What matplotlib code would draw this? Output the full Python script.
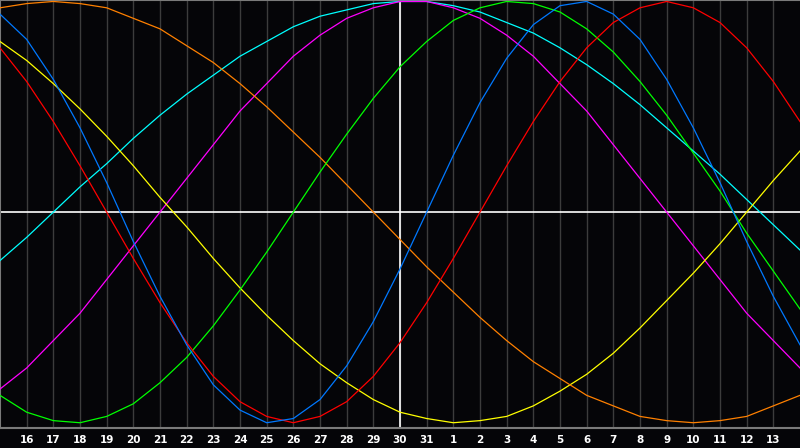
import matplotlib
matplotlib.use("Agg")
import matplotlib.pyplot as plt

# day of month shown at each grid position (left edge = 15, right edge = 14)
days = list(range(15, 32)) + list(range(1, 15))

# cycle values read at each day, -1 .. 1
physical = [0.94, 0.82, 0.63, 0.40, 0.14, -0.14, -0.40, -0.63, -0.82, -0.94,
            -1.00, -0.98, -0.89, -0.73, -0.52, -0.27, 0.00, 0.27, 0.52, 0.73,
            0.89, 0.98, 1.00, 0.94, 0.82, 0.63, 0.40, 0.14, -0.14, -0.40, -0.63]
emotional = [0.78, 0.62, 0.43, 0.22, 0.00, -0.22, -0.43, -0.62, -0.78, -0.90,
             -0.97, -1.00, -0.97, -0.90, -0.78, -0.62, -0.43, -0.22, 0.00, 0.22,
             0.43, 0.62, 0.78, 0.90, 0.97, 1.00, 0.97, 0.90, 0.78, 0.62, 0.43]
intellectual = [-0.87, -0.95, -0.99, -1.00, -0.97, -0.91, -0.81, -0.69, -0.54, -0.37,
                -0.19, 0.00, 0.19, 0.37, 0.54, 0.69, 0.81, 0.91, 0.97, 1.00,
                0.99, 0.95, 0.87, 0.76, 0.62, 0.46, 0.28, 0.10, -0.10, -0.28, -0.46]
intuitive = [-0.84, -0.74, -0.61, -0.48, -0.32, -0.16, 0.00, 0.16, 0.32, 0.48,
             0.61, 0.74, 0.84, 0.92, 0.97, 1.00, 1.00, 0.97, 0.92, 0.84,
             0.74, 0.61, 0.48, 0.32, 0.16, 0.00, -0.16, -0.32, -0.48, -0.61, -0.74]
aesthetic = [0.81, 0.72, 0.61, 0.49, 0.36, 0.22, 0.07, -0.07, -0.22, -0.36,
             -0.49, -0.61, -0.72, -0.81, -0.89, -0.95, -0.98, -1.00, -0.99, -0.97,
             -0.92, -0.85, -0.77, -0.67, -0.55, -0.42, -0.29, -0.15, 0.00, 0.15, 0.29]
awareness = [0.97, 0.99, 1.00, 0.99, 0.97, 0.92, 0.87, 0.79, 0.71, 0.61,
             0.50, 0.38, 0.26, 0.13, 0.00, -0.13, -0.26, -0.38, -0.50, -0.61,
             -0.71, -0.79, -0.87, -0.92, -0.97, -0.99, -1.00, -0.99, -0.97, -0.92, -0.87]
spiritual = [-0.23, -0.12, 0.00, 0.12, 0.23, 0.35, 0.46, 0.56, 0.65, 0.74,
             0.81, 0.88, 0.93, 0.96, 0.99, 1.00, 1.00, 0.98, 0.95, 0.90,
             0.85, 0.78, 0.70, 0.61, 0.51, 0.40, 0.29, 0.18, 0.06, -0.06, -0.18]

BG = "#050508"
GRID = "#3c3c3c"
BORDER = "#7a7a7a"

fig = plt.figure(figsize=(8, 4.48), dpi=100, facecolor=BG)
ax = fig.add_axes([0, 20 / 448, 1, 428 / 448])
ax.set_facecolor(BG)

x = list(range(len(days)))
today = days.index(30)

for gx in x[1:-1]:
    ax.axvline(gx, color=GRID, lw=1, zorder=1)
ax.axhline(0, color="white", lw=1.2, zorder=2)
ax.axvline(today, color="white", lw=1.2, zorder=2)

series = [
    (spiritual, "#00ffff"),
    (intuitive, "#ff00ff"),
    (aesthetic, "#ffff00"),
    (awareness, "#ff8000"),
    (intellectual, "#00ff00"),
    (emotional, "#ff0000"),
    (physical, "#0078ff"),
]
for vals, col in series:
    ax.plot(x, vals, color=col, lw=0.9, zorder=3, solid_joinstyle="round")

ax.set_xlim(0, len(days) - 1)
ax.set_ylim(-1.025, 1.007)
ax.set_xticks(x[1:-1])
ax.set_xticklabels([str(d) for d in days[1:-1]], color="white",
                   fontsize=7.5, fontweight="bold")
ax.tick_params(axis="x", length=0, pad=5)
ax.set_yticks([])
for side in ("top", "left", "bottom"):
    ax.spines[side].set_color(BORDER)
    ax.spines[side].set_linewidth(1.5)
ax.spines["right"].set_visible(False)

fig.savefig("out.png", dpi=100, facecolor=BG)
